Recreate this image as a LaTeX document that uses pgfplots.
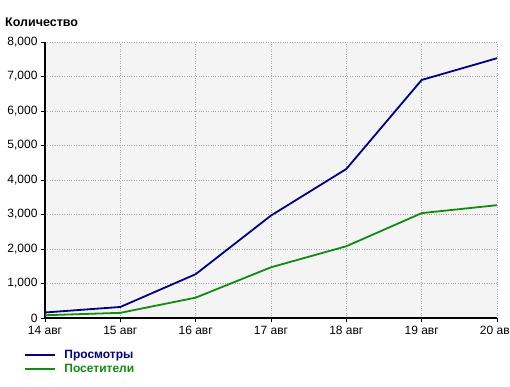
\documentclass[border=0pt]{standalone}
\usepackage{fontspec}
\setmainfont{Liberation Sans}
\usepackage{pgfplots}
\pgfplotsset{compat=1.18}
\definecolor{bgc}{HTML}{F4F4F4}
\definecolor{navyc}{HTML}{000080}
\definecolor{greenc}{HTML}{108C10}
\definecolor{gridc}{HTML}{A8A8A8}
\begin{document}
\begin{tikzpicture}[x=1pt,y=1pt]
\path[use as bounding box] (0,0) rectangle (510,386);
\begin{axis}[
  at={(45pt,68pt)}, anchor=south west,
  scale only axis, width=452pt, height=276pt,
  xmin=0, xmax=6, ymin=0, ymax=8000,
  xtick={0,1,2,3,4,5,6},
  xticklabels={14 авг,15 авг,16 авг,17 авг,18 авг,19 авг,20 авг},
  ytick={0,1000,...,8000},
  /pgf/number format/.cd, 1000 sep={,}, assume math mode=true,
  /pgfplots/.cd,
  scaled y ticks=false,
  axis x line=bottom, axis y line=left,
  axis line style={-, line width=2pt, black},
  tick align=outside, major tick length=4pt,
  tick style={black, line width=0.8pt},
  grid=major, major grid style={gridc, dotted, line width=0.6pt},
  axis background/.style={fill=bgc},
  tick label style={font=\fontsize{12}{14}\selectfont},
  xticklabel style={yshift=-1pt},
  legend style={at={(-0.046,-0.108)}, anchor=north west, draw=none, fill=none,
    font=\fontsize{12}{13}\selectfont\bfseries, row sep=0pt, inner sep=0pt},
  legend cell align=left,
  legend image code/.code={\draw[#1, line width=2pt] (0pt,0pt) -- (30pt,0pt);},
]
\addplot[navyc, line width=1.8pt] coordinates {(0,160) (1,320) (2,1270) (3,2970) (4,4320) (5,6900) (6,7530)};
\addlegendentry{\textcolor{navyc}{\hspace{6pt}Просмотры}}
\addplot[greenc, line width=1.8pt] coordinates {(0,80) (1,150) (2,590) (3,1470) (4,2080) (5,3040) (6,3270)};
\addlegendentry{\textcolor{greenc}{\hspace{6pt}Посетители}}
\end{axis}
\node[anchor=west, font=\fontsize{12.5}{14}\selectfont\bfseries, inner sep=0pt] at (5,364) {Количество};
\end{tikzpicture}
\end{document}
